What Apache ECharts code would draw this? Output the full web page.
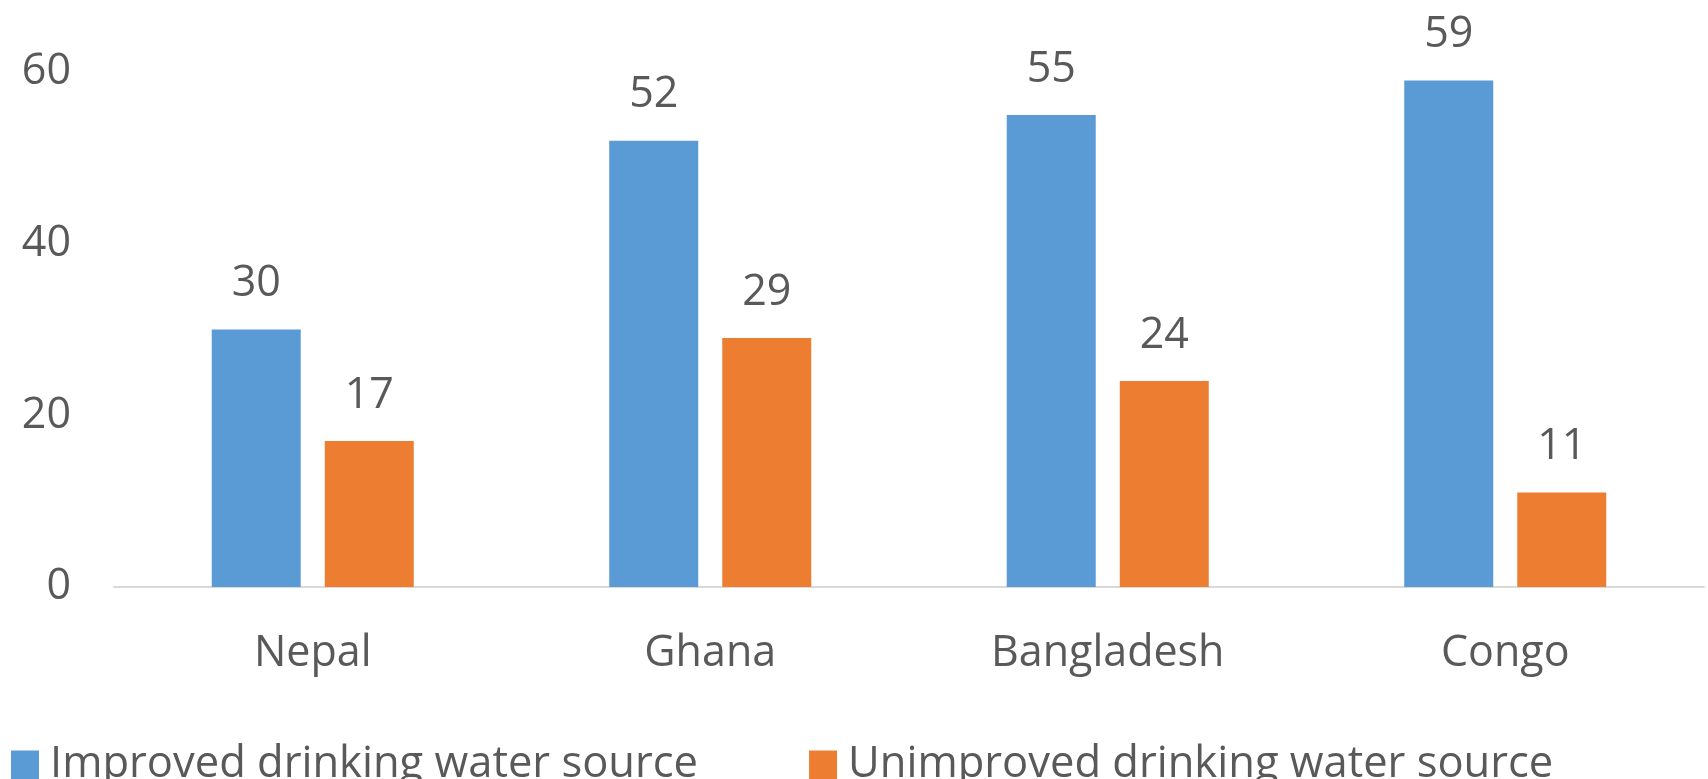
<!DOCTYPE html>
<html>
<head>
<meta charset="utf-8">
<script src="https://cdn.jsdelivr.net/npm/echarts@6/dist/echarts.min.js"></script>
<style>
  html, body { margin: 0; padding: 0; background: #ffffff; }
  #chart { width: 1708px; height: 779px; }
</style>
</head>
<body>
<div id="chart"></div>
<script>
// Share of households by drinking water source
const countries = ['Nepal', 'Ghana', 'Bangladesh', 'Congo'];
const improved = [30, 52, 55, 59];
const unimproved = [17, 29, 24, 11];
const seriesNames = ['Improved drinking water source', 'Unimproved drinking water source'];
const yTicks = [0, 20, 40, 60];

const textColor = '#595959';
const fontFamily = '"Open Sans", "Noto Sans", sans-serif';

const chart = echarts.init(document.getElementById('chart'), null, { renderer: 'canvas' });

const barLabel = {
  show: true,
  position: 'top',
  distance: 24,
  color: textColor,
  fontFamily: fontFamily,
  fontSize: 43
};

chart.setOption({
  animation: false,
  backgroundColor: '#ffffff',
  grid: { left: 114, right: 4, top: 72, bottom: 192, containLabel: false },
  legend: {
    left: 6,
    top: 738,
    icon: 'rect',
    itemWidth: 28,
    itemHeight: 29,
    itemGap: 111,
    textStyle: {
      color: textColor, fontFamily: fontFamily, fontSize: 43.5,
      lineHeight: 29, padding: [0, 0, 0, 6]
    },
    data: seriesNames
  },
  xAxis: {
    type: 'category',
    data: countries,
    axisLine: { lineStyle: { color: '#d9d9d9', width: 2 } },
    axisTick: { show: false },
    axisLabel: { color: textColor, fontFamily: fontFamily, fontSize: 43, margin: 45 }
  },
  yAxis: {
    type: 'value',
    min: yTicks[0],
    max: yTicks[yTicks.length - 1],
    interval: yTicks[1] - yTicks[0],
    axisLine: { show: false },
    axisTick: { show: false },
    splitLine: { show: false },
    axisLabel: {
      color: textColor, fontFamily: fontFamily, fontSize: 43, margin: 43,
      padding: [6, 0, 0, 0]
    }
  },
  series: [
    {
      name: seriesNames[0],
      type: 'bar',
      data: improved,
      barWidth: 89,
      barGap: '27%',
      itemStyle: { color: '#5b9bd5' },
      label: barLabel
    },
    {
      name: seriesNames[1],
      type: 'bar',
      data: unimproved,
      barWidth: 89,
      barGap: '27%',
      itemStyle: { color: '#ed7d31' },
      label: barLabel
    }
  ]
});
</script>
</body>
</html>
